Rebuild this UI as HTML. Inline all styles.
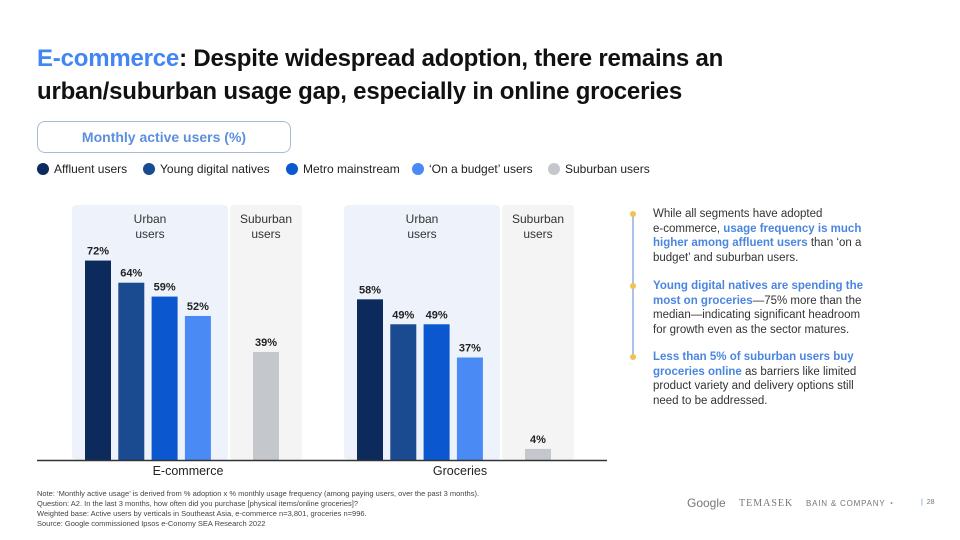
<!DOCTYPE html>
<html><head><meta charset="utf-8"><style>
*{margin:0;padding:0;box-sizing:border-box}
body{width:960px;height:540px;background:#fff;font-family:"Liberation Sans",sans-serif;position:relative;overflow:hidden;color:#202124}
.abs{position:absolute}
h1{position:absolute;left:37px;top:42px;width:790px;font-size:24px;line-height:33px;font-weight:bold;color:#111;letter-spacing:-0.2px}
h1 span{color:#4285f4}
.box{left:37px;top:121px;width:254px;height:32px;border:1.5px solid #a9bbd6;border-radius:8px;text-align:center;line-height:30px;font-size:14px;font-weight:bold;color:#5b8fe0}
.leg{top:162px;font-size:12px;line-height:14px;display:flex;align-items:center;gap:5px}
.dot{width:12px;height:12px;border-radius:50%;display:inline-block}
.bul{left:653px;font-size:11.5px;line-height:14.5px;width:212px;color:#333}
.bul b{color:#4a86e0}
.yd{left:630px;width:6px;height:6px;border-radius:50%;background:#f2c14e}
.note{left:37px;top:489px;font-size:7.5px;line-height:10px;color:#444}
</style></head><body>
<h1><span>E-commerce</span>: Despite widespread adoption, there remains an urban/suburban usage gap, especially in online groceries</h1>
<div class="abs box">Monthly active users (%)</div>
<div class="abs leg" style="left:37px"><i class="dot" style="background:#0d2a5c"></i>Affluent users</div>
<div class="abs leg" style="left:143px"><i class="dot" style="background:#1a4a8f"></i>Young digital natives</div>
<div class="abs leg" style="left:286px"><i class="dot" style="background:#0b57d0"></i>Metro mainstream</div>
<div class="abs leg" style="left:412px"><i class="dot" style="background:#4a8af4"></i>‘On a budget’ users</div>
<div class="abs leg" style="left:548px"><i class="dot" style="background:#c4c7cc"></i>Suburban users</div>

<svg class="abs" style="left:0;top:0" width="960" height="540" id="chart"></svg>

<div class="abs" style="left:632px;top:214px;width:2px;height:144px;background:#a9c3ea"></div>
<div class="abs yd" style="top:211px"></div>
<div class="abs yd" style="top:283px"></div>
<div class="abs yd" style="top:354px"></div>
<div class="abs bul" style="top:207px">While all segments have adopted<br>e-commerce, <b>usage frequency is much higher among affluent users</b> than ‘on a budget’ and suburban users.</div>
<div class="abs bul" style="top:279px"><b>Young digital natives are spending the most on groceries</b>—75% more than the median—indicating significant headroom for growth even as the sector matures.</div>
<div class="abs bul" style="top:350px"><b>Less than 5% of suburban users buy groceries online</b> as barriers like limited product variety and delivery options still need to be addressed.</div>

<div class="abs note">Note: ‘Monthly active usage’ is derived from % adoption x % monthly usage frequency (among paying users, over the past 3 months).<br>Question: A2. In the last 3 months, how often did you purchase [physical items/online groceries]?<br>Weighted base: Active users by verticals in Southeast Asia, e-commerce n=3,801, groceries n=996.<br>Source: Google commissioned Ipsos e-Conomy SEA Research 2022</div>
<div class="abs" style="left:687px;top:496px;font-size:12px;color:#777">Google</div>
<div class="abs" style="left:739px;top:498px;font-size:10px;color:#777;font-family:'Liberation Serif',serif;letter-spacing:1px">TEMASEK</div>
<div class="abs" style="left:806px;top:499px;font-size:8px;color:#777;letter-spacing:0.8px">BAIN &amp; COMPANY ◔</div>
<div class="abs" style="left:921px;top:499px;font-size:7px;color:#777"><span style="color:#4a86e0">|</span>&nbsp; 28</div>

<script>
const groups = ["E-commerce","Groceries"];
const segments = ["Affluent users","Young digital natives","Metro mainstream","On a budget","Suburban users"];
const ecommerceValues = [72,64,59,52,39];
const groceriesValues = [58,49,49,37,4];
const colors = ["#0d2a5c","#1a4a8f","#0b57d0","#4a8af4","#c4c7cc"];
const NS="http://www.w3.org/2000/svg";
const svg=document.getElementById('chart');
const baseY=460, pxPer=2.77;
function y(v){return baseY-v*pxPer;}
const groupX=[85,357], barW=26, step=33.3, subOff=168;
function barX(g,i){return i<4?groupX[g]+i*step:groupX[g]+subOff;}
function el(t,a){const e=document.createElementNS(NS,t);for(const k in a)e.setAttribute(k,a[k]);svg.appendChild(e);return e;}
const allVals=[ecommerceValues,groceriesValues];
groups.forEach((g,gi)=>{
  const x0=groupX[gi];
  const ub=el('rect',{x:x0-13,y:205,width:156,height:255,rx:4,fill:'#eef3fb'});
  
  
  const sb=el('rect',{x:x0+145,y:205,width:72,height:255,rx:4,fill:'#f4f4f5'});
  
  
  [["Urban",x0+65],["Suburban",x0+181]].forEach(([w,cx])=>{
    [w,"users"].forEach((s,k)=>{
      const t=el('text',{x:cx,y:223+k*15,'font-size':12,'text-anchor':'middle',fill:'#333','font-family':'Liberation Sans'});
      t.textContent=s;
      
      
    });
  });
  allVals[gi].forEach((v,i)=>{
    const bx=barX(gi,i);
    const r=el('rect',{x:bx,y:y(v),width:barW,height:v*pxPer,fill:colors[i]});
    
    
    const t=el('text',{x:bx+barW/2,y:y(v)-6,'font-size':11,'font-weight':'bold','text-anchor':'middle',fill:'#222','font-family':'Liberation Sans'});
    t.textContent=v+'%';
    
    
  });
  const gl=el('text',{x:x0+103,y:475,'font-size':12.5,'text-anchor':'middle',fill:'#222','font-family':'Liberation Sans'});
  gl.textContent=g;
  
  
});
const ax=el('line',{x1:37,x2:607,y1:baseY+0.5,y2:baseY+0.5,stroke:'#333','stroke-width':1.5});


</script>
</body></html>
